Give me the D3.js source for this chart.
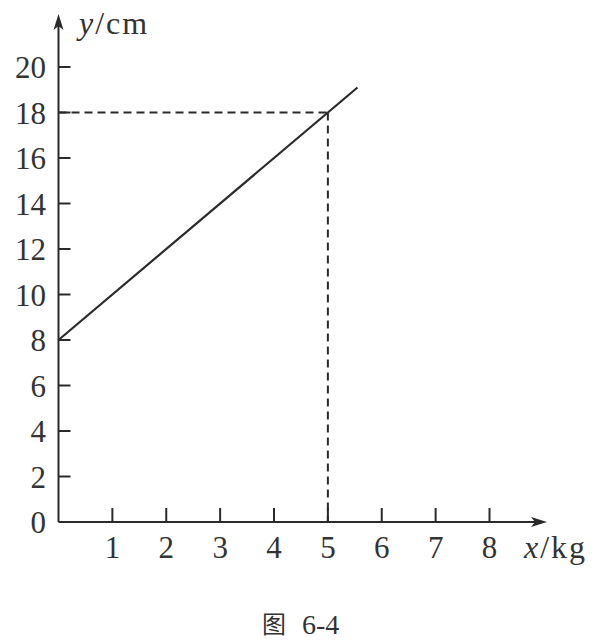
<!DOCTYPE html>
<html><head><meta charset="utf-8">
<script src="https://cdn.jsdelivr.net/npm/d3@7"></script>
<style>body{margin:0;background:#fff}svg{display:block}</style>
</head><body>
<script>
const xTicks = [1,2,3,4,5,6,7,8];
const yTicks = [0,2,4,6,8,10,12,14,16,18,20];
const lineX = [0, 5.55];
const lineY = [8, 19.1];
const markPoint = {x: 5, y: 18};
const xLabel = "x", xUnit = "/kg", yLabel = "y", yUnit = "/cm";
const caption = ["图", "6-4"];

const W = 596, H = 641;
const svg = d3.select("body").append("svg").attr("width", W).attr("height", H);
const x = d3.scaleLinear().domain([0, 8]).range([58.5, 489.5]);
const y = d3.scaleLinear().domain([0, 20]).range([522, 67]);
const ink = "#2a2a2a";
const serif = "'Liberation Serif','Times New Roman',serif";
const fs = 31;

// axes lines
svg.append("line").attr("x1", x(0)).attr("x2", 540).attr("y1", y(0)).attr("y2", y(0)).attr("stroke", ink).attr("stroke-width", 2);
svg.append("line").attr("x1", x(0)).attr("x2", x(0)).attr("y1", y(0)).attr("y2", 22).attr("stroke", ink).attr("stroke-width", 2);
// arrows
svg.append("path").attr("d", `M${x(0)},14 L${x(0)-5},30 L${x(0)},26 L${x(0)+5},30 Z`).attr("fill", ink);
svg.append("path").attr("d", `M547,${y(0)} L531,${y(0)-5} L535,${y(0)} L531,${y(0)+5} Z`).attr("fill", ink);

// x ticks
svg.selectAll(".xt").data(xTicks).enter().append("line")
  .attr("x1", d => x(d)).attr("x2", d => x(d)).attr("y1", y(0)).attr("y2", y(0) - 14)
  .attr("stroke", ink).attr("stroke-width", 2);
svg.selectAll(".xl").data(xTicks).enter().append("text")
  .attr("x", d => x(d)).attr("y", 558).attr("text-anchor", "middle")
  .attr("font-family", serif).attr("font-size", fs).attr("fill", "#333").text(d => d);

// y ticks
svg.selectAll(".yt").data(yTicks.filter(d => d > 0)).enter().append("line")
  .attr("x1", x(0)).attr("x2", x(0) + 12).attr("y1", d => y(d)).attr("y2", d => y(d))
  .attr("stroke", ink).attr("stroke-width", 2);
svg.selectAll(".yl").data(yTicks).enter().append("text")
  .attr("x", 46).attr("y", d => y(d) + 11).attr("text-anchor", "end")
  .attr("font-family", serif).attr("font-size", fs).attr("fill", "#333").text(d => d);

// dashed guide lines
svg.append("line").attr("x1", x(0)).attr("x2", x(markPoint.x)).attr("y1", y(markPoint.y)).attr("y2", y(markPoint.y))
  .attr("stroke", ink).attr("stroke-width", 2).attr("stroke-dasharray", "8,5");
svg.append("line").attr("x1", x(markPoint.x)).attr("x2", x(markPoint.x)).attr("y1", y(markPoint.y)).attr("y2", y(0))
  .attr("stroke", ink).attr("stroke-width", 2).attr("stroke-dasharray", "8,5");

// main line
const pts = lineX.map((v, i) => [v, lineY[i]]);
svg.append("path").attr("d", d3.line().x(d => x(d[0])).y(d => y(d[1]))(pts))
  .attr("fill", "none").attr("stroke", ink).attr("stroke-width", 2.2);

// axis labels
const yl = svg.append("text").attr("x", 79).attr("y", 34).attr("font-family", serif).attr("font-size", 32).attr("fill", "#333").attr("letter-spacing", 2);
yl.append("tspan").attr("font-style", "italic").text(yLabel);
yl.append("tspan").text(yUnit);
const xl = svg.append("text").attr("x", 524).attr("y", 558).attr("font-family", serif).attr("font-size", 32).attr("fill", "#333").attr("letter-spacing", 2);
xl.append("tspan").attr("font-style", "italic").text(xLabel);
xl.append("tspan").text(xUnit);

// caption
svg.append("text").attr("x", 262).attr("y", 633).attr("font-size", 24).attr("fill", "#333")
  .attr("font-family", "'Noto Sans CJK SC'").text(caption[0]);
svg.append("text").attr("x", 302).attr("y", 634).attr("font-size", 28).attr("fill", "#333")
  .attr("font-family", serif).text(caption[1]);
</script>
</body></html>
